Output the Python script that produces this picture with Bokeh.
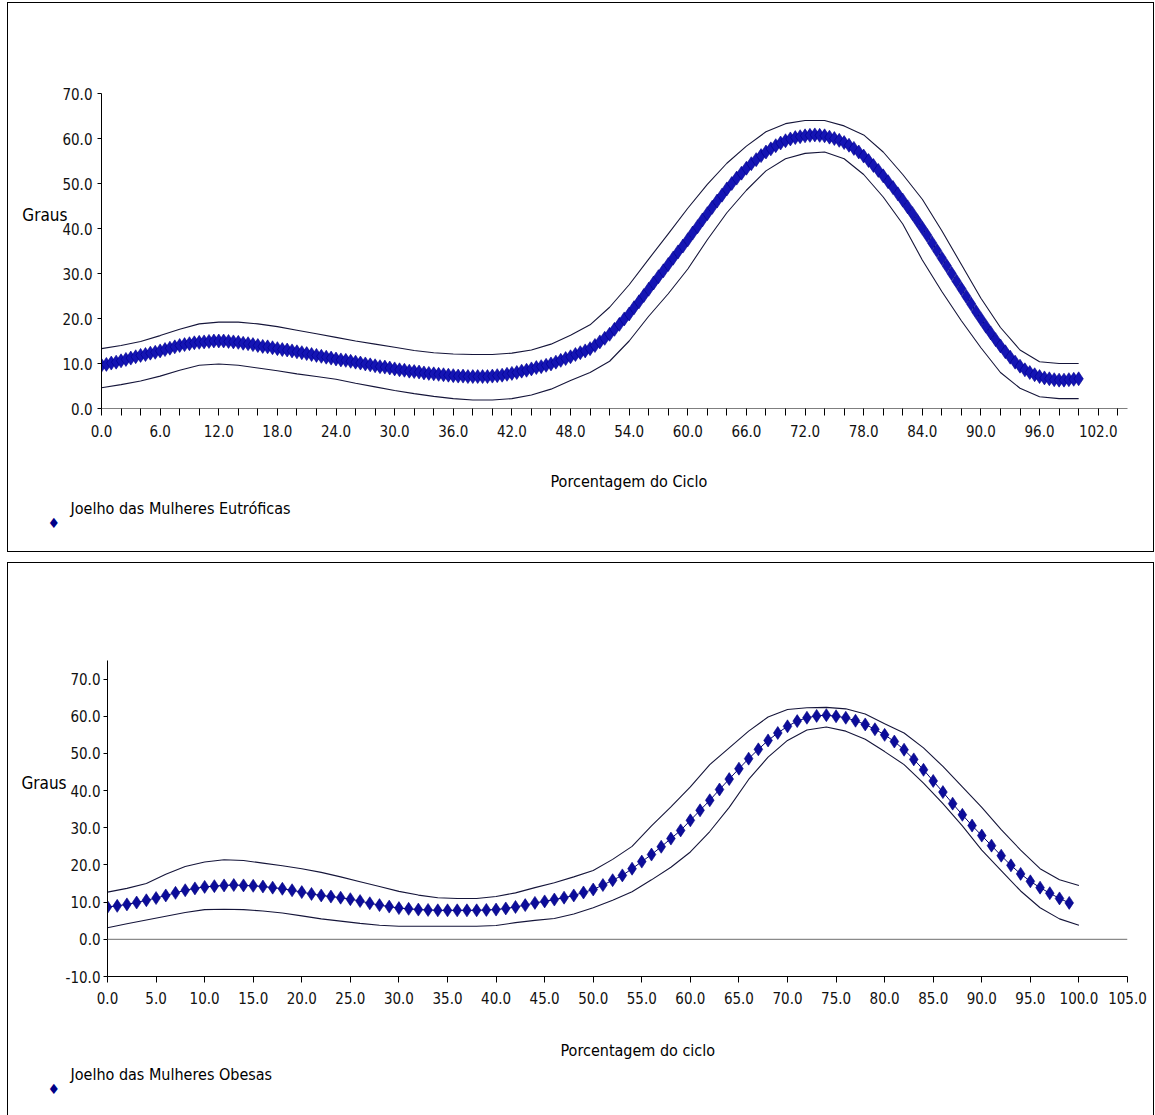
from bokeh.plotting import figure
from bokeh.models import FixedTicker, Span, Range1d, Title
from bokeh.layouts import column
from bokeh.embed import file_html
from bokeh.resources import INLINE

FONT = "Liberation Sans Narrow, Arial Narrow, DejaVu Sans Condensed, sans-serif"

# ---------------- data : top panel (Eutróficas) ----------------
x_top = [i * 0.5 for i in range(201)]
mean_top = [
    9.6, 9.8, 10.1, 10.3, 10.6, 10.9, 11.2, 11.5, 11.8, 12.0,
    12.3, 12.5, 12.8, 13.1, 13.4, 13.7, 14.0, 14.2, 14.4, 14.6,
    14.7, 14.8, 14.9, 15.0, 15.0, 15.0, 14.9, 14.8, 14.7, 14.5,
    14.4, 14.2, 14.0, 13.8, 13.7, 13.5, 13.3, 13.1, 13.0, 12.8,
    12.6, 12.4, 12.2, 12.0, 11.8, 11.6, 11.4, 11.2, 11.0, 10.8,
    10.7, 10.5, 10.3, 10.1, 9.9, 9.7, 9.5, 9.3, 9.2, 9.0,
    8.8, 8.6, 8.5, 8.3, 8.2, 8.1, 7.9, 7.8, 7.7, 7.6,
    7.5, 7.4, 7.3, 7.2, 7.2, 7.1, 7.1, 7.1, 7.1, 7.1,
    7.2, 7.3, 7.4, 7.6, 7.8, 8.0, 8.3, 8.5, 8.8, 9.1,
    9.3, 9.6, 9.9, 10.3, 10.7, 11.1, 11.5, 12.0, 12.4, 12.8,
    13.3, 14.0, 14.8, 15.6, 16.5, 17.6, 18.7, 19.9, 21.0, 22.4,
    23.7, 25.1, 26.5, 27.9, 29.3, 30.6, 32.0, 33.4, 34.8, 36.1,
    37.5, 39.0, 40.4, 41.9, 43.3, 44.7, 46.1, 47.4, 48.8, 50.0,
    51.2, 52.3, 53.4, 54.4, 55.3, 56.2, 57.0, 57.7, 58.4, 59.0,
    59.5, 59.9, 60.2, 60.4, 60.6, 60.7, 60.8, 60.7, 60.6, 60.3,
    60.0, 59.6, 59.1, 58.5, 57.8, 57.0, 56.1, 55.1, 54.0, 52.9,
    51.7, 50.4, 49.1, 47.7, 46.3, 44.8, 43.3, 41.7, 40.1, 38.5,
    36.8, 35.1, 33.4, 31.7, 30.0, 28.3, 26.6, 24.9, 23.2, 21.5,
    19.9, 18.3, 16.8, 15.3, 13.9, 12.6, 11.4, 10.3, 9.4, 8.6,
    8.0, 7.5, 7.1, 6.8, 6.6, 6.4, 6.3, 6.3, 6.4, 6.5,
    6.6,
]
x_band = list(range(0, 101, 2))
upper_top = [
    13.3, 14.0, 14.9, 16.2, 17.6, 18.8, 19.2, 19.2, 18.8, 18.2,
    17.4, 16.6, 15.8, 15.0, 14.3, 13.6, 12.9, 12.4, 12.1, 12.0,
    12.0, 12.3, 13.0, 14.3, 16.3, 18.6, 22.5, 27.5, 33.2, 38.8,
    44.5, 49.8, 54.5, 58.3, 61.5, 63.3, 64.0, 64.0, 62.8, 60.8,
    57.0, 52.0, 46.5, 39.5, 32.0, 24.5, 18.0, 13.0, 10.4, 10.0,
    10.0,
]
lower_top = [
    4.6, 5.3, 6.1, 7.2, 8.5, 9.6, 9.9, 9.6, 9.0, 8.4,
    7.7, 7.1, 6.5, 5.6, 4.8, 4.0, 3.3, 2.7, 2.2, 1.9,
    1.9, 2.2, 3.0, 4.3, 6.2, 8.0, 10.5, 15.0, 20.5, 25.5,
    31.0, 37.5, 43.5, 48.5, 52.8, 55.5, 56.7, 57.0, 55.5, 52.0,
    47.0, 41.0, 33.0, 26.0, 19.5, 13.5, 8.0, 4.5, 2.6, 2.2,
    2.2,
]

# ---------------- data : bottom panel (Obesas) ----------------
x_bot = list(range(0, 100))
mean_bot = [
    8.7, 9.0, 9.4, 9.9, 10.5, 11.1, 11.8, 12.5, 13.2, 13.7,
    14.1, 14.3, 14.5, 14.6, 14.5, 14.4, 14.2, 13.9, 13.6, 13.2,
    12.7, 12.2, 11.8, 11.5, 11.2, 10.8, 10.3, 9.7, 9.2, 8.8,
    8.4, 8.2, 8.0, 7.9, 7.8, 7.8, 7.8, 7.8, 7.8, 7.9,
    8.0, 8.3, 8.7, 9.2, 9.8, 10.2, 10.7, 11.2, 11.8, 12.6,
    13.4, 14.6, 15.9, 17.2, 19.0, 20.9, 22.8, 24.9, 27.1, 29.3,
    32.0, 34.7, 37.4, 40.3, 43.1, 45.9, 48.6, 51.1, 53.5, 55.5,
    57.3, 58.7, 59.6, 60.1, 60.3, 60.0, 59.6, 58.8, 57.8, 56.5,
    55.0, 53.2, 51.0, 48.4, 45.6, 42.6, 39.6, 36.5, 33.5, 30.6,
    27.9, 25.2, 22.5, 19.9, 17.6, 15.6, 13.9, 12.4, 11.0, 9.8,
]
upper_bot = [
    12.7, 13.7, 15.0, 17.5, 19.6, 20.8, 21.4, 21.2, 20.5, 19.8,
    19.0, 18.0, 16.8, 15.5, 14.2, 12.9, 11.9, 11.2, 11.0, 11.0,
    11.5, 12.5, 13.9, 15.2, 16.8, 18.5, 21.5, 25.0, 30.5, 35.6,
    41.0, 47.0, 51.5, 56.0, 59.8, 61.8, 62.3, 62.4, 62.0, 60.6,
    58.0, 55.5, 51.5, 46.5, 41.0, 35.5, 29.5, 24.0, 19.0, 16.0,
    14.5,
]
lower_bot = [
    3.1, 4.2, 5.2, 6.2, 7.2, 8.0, 8.1, 8.0, 7.6, 7.1,
    6.3, 5.5, 4.9, 4.3, 3.8, 3.5, 3.5, 3.5, 3.5, 3.5,
    3.7, 4.5, 5.1, 5.6, 6.8, 8.5, 10.5, 12.8, 16.0, 19.4,
    23.5, 29.0, 35.5, 43.0, 49.0, 53.5, 56.3, 57.1, 56.0, 53.8,
    50.5, 47.0, 42.0, 36.5, 30.5, 24.0, 18.5, 13.0, 8.5, 5.5,
    3.8,
]

# tick definitions
xticks_top = list(range(0, 106, 2))
xlabels_top = {t: (f"{t:.1f}" if t % 6 == 0 else "") for t in xticks_top}
yticks_top = list(range(0, 71, 10))
xticks_bot = list(range(0, 106, 5))
yticks_bot = list(range(-10, 71, 10))

y_title = "Graus"
x_title_top = "Porcentagem do Ciclo"
x_title_bot = "Porcentagem do ciclo"
legend_top = "Joelho das Mulheres Eutróficas"
legend_bot = "Joelho das Mulheres Obesas"
legend_symbol = "\u2666"


def style_axes(p, x_out, x_standoff, y_standoff, xline, ylab_standoff, x_spacer):
    for ax in (p.xaxis[0], p.yaxis[0]):
        ax.major_tick_in = 0
        ax.minor_tick_in = 0
        ax.minor_tick_out = 0
        ax.major_label_text_font = FONT
        ax.major_label_text_font_size = "15px"
        ax.major_label_text_color = "#111111"
        ax.major_tick_line_color = "#000000"
        ax.major_tick_line_width = 1
    xa = p.xaxis[0]
    xa.major_tick_out = x_out
    xa.major_label_standoff = x_standoff
    xa.axis_line_color = xline
    # blank axis label used only as vertical spacing below the tick labels
    xa.axis_label = " "
    xa.axis_label_text_font_size = "1px"
    xa.axis_label_standoff = x_spacer
    ya = p.yaxis[0]
    ya.major_tick_out = 4
    ya.major_label_standoff = y_standoff
    ya.axis_line_color = "#000000"
    ya.axis_label = y_title + "\n\n\n"
    ya.axis_label_orientation = "horizontal"
    ya.axis_label_standoff = ylab_standoff
    ya.axis_label_text_font = FONT
    ya.axis_label_text_font_size = "17px"
    ya.axis_label_text_font_style = "normal"
    ya.axis_label_text_color = "#000000"
    p.xgrid.visible = False
    p.ygrid.visible = False


def add_below(p, title_text, title_offset, title_standoff, legend_text, legend_offset,
              legend_standoff, symbol_offset, symbol_standoff):
    p.add_layout(Title(text=title_text, align="left", offset=title_offset,
                       standoff=title_standoff, text_font=FONT, text_font_size="16px",
                       text_font_style="normal", text_color="#000000",
                       text_line_height=0.5), "below")
    p.add_layout(Title(text=legend_text, align="left", offset=legend_offset,
                       standoff=legend_standoff, text_font=FONT, text_font_size="16px",
                       text_font_style="normal", text_color="#000000"), "below")
    p.add_layout(Title(text=legend_symbol, align="left", offset=symbol_offset,
                       standoff=symbol_standoff, text_font="DejaVu Sans",
                       text_font_size="14px", text_font_style="normal",
                       text_color="#000088"), "below")


# ---------------- top figure ----------------
p1 = figure(width=1147, height=550, output_backend="svg", toolbar_location=None,
            x_range=Range1d(0, 105), y_range=Range1d(0, 70), frame_align=False,
            min_border_left=93, min_border_right=28, min_border_top=90, min_border_bottom=145,
            outline_line_color=None, background_fill_color="white", border_fill_color="white",
            styles={"border": "1px solid #000000"})
p1.line(x_band, upper_top, line_color="#15153a", line_width=1.1)
p1.line(x_band, lower_top, line_color="#15153a", line_width=1.1)
p1.line(x_top, mean_top, line_color="#000080", line_width=1)
p1.scatter(x_top, mean_top, marker="diamond", size=14, fill_color="#1414B4",
           line_color="#00008B", line_width=0.6)
p1.xaxis[0].ticker = FixedTicker(ticks=xticks_top, minor_ticks=[])
p1.xaxis[0].major_label_overrides = xlabels_top
p1.yaxis[0].ticker = FixedTicker(ticks=yticks_top, minor_ticks=[])
p1.yaxis[0].major_label_overrides = {t: f"{t:.1f}" for t in yticks_top}
style_axes(p1, 7, 9, 5, "#7f7f7f", -8, 12)
add_below(p1, x_title_top, 449, 29, legend_top, -31, -18, -54, 8)

# ---------------- bottom figure ----------------
p2 = figure(width=1147, height=553, output_backend="svg", toolbar_location=None,
            x_range=Range1d(0, 105), y_range=Range1d(-10, 75), frame_align=False,
            min_border_left=99, min_border_right=28, min_border_top=97, min_border_bottom=140,
            outline_line_color=None, background_fill_color="white", border_fill_color="white",
            styles={"border-top": "1px solid #000000", "border-left": "1px solid #000000",
                    "border-right": "1px solid #000000"})
p2.add_layout(Span(location=0, dimension="width", line_color="#8a8a8a", line_width=1.2))
p2.line(x_band, upper_bot, line_color="#15153a", line_width=1.1)
p2.line(x_band, lower_bot, line_color="#15153a", line_width=1.1)
p2.line(x_bot, mean_bot, line_color="#000070", line_width=1)
p2.scatter(x_bot, mean_bot, marker="diamond", size=13, fill_color="#0C0C9A",
           line_color="#000080", line_width=0.6)
p2.xaxis[0].ticker = FixedTicker(ticks=xticks_bot, minor_ticks=[])
p2.xaxis[0].major_label_overrides = {t: f"{t:.1f}" for t in xticks_bot}
p2.yaxis[0].ticker = FixedTicker(ticks=yticks_bot, minor_ticks=[])
p2.yaxis[0].major_label_overrides = {t: f"{t:.1f}" for t in yticks_bot}
style_axes(p2, 6, 9, 3, "#000000", -4, 17)
add_below(p2, x_title_bot, 453, 23, legend_bot, -37, -24, -60, 15)

layout = column(p1, p2, spacing=10, margin=(2, 0, 0, 7))
open("out.html", "w").write(file_html(layout, INLINE))
